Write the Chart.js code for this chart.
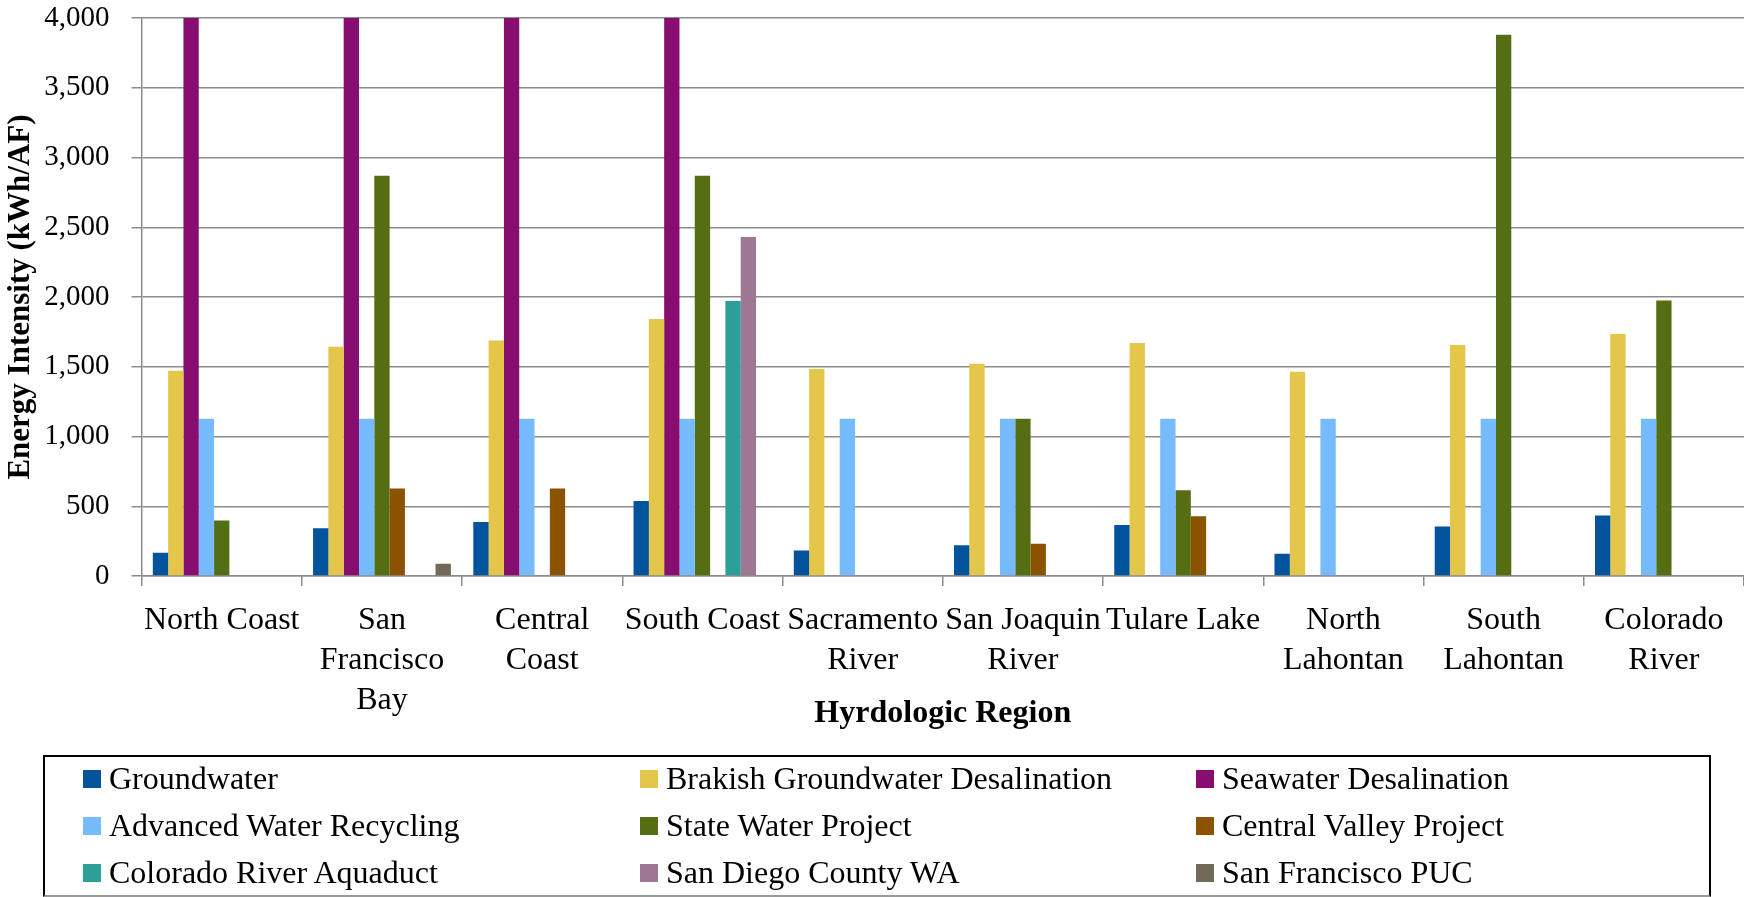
<!DOCTYPE html>
<html>
<head>
<meta charset="utf-8">
<script src="https://cdn.jsdelivr.net/npm/chart.js@4.4.1/dist/chart.umd.min.js"></script>
<style>
  html, body { margin: 0; padding: 0; background: #fff; }
  #wrap { position: relative; width: 1744px; height: 897px; overflow: hidden; }
  #chart { position: absolute; left: 0; top: 0; }
  #legend {
    position: absolute; left: 43px; top: 755px; width: 1668px; height: 142px;
    box-sizing: border-box; border: 2px solid #000; border-bottom-color: #9a9a9a;
    font-family: 'Liberation Serif', serif; font-size: 32px; color: #000;
  }
  .item { position: absolute; white-space: nowrap; line-height: 32px; height: 32px; padding-left: 26px; }
  .sw { position: absolute; left: 0; top: 8px; width: 18px; height: 18px; }
</style>
</head>
<body>
<div id="wrap">
  <canvas id="chart" width="1744" height="897"></canvas>
  <div id="legend"></div>
</div>
<script>
// Hydrologic regions (x categories, pre-wrapped into lines)
const regions = [
  ['North Coast'],
  ['San', 'Francisco', 'Bay'],
  ['Central', 'Coast'],
  ['South Coast'],
  ['Sacramento', 'River'],
  ['San Joaquin', 'River'],
  ['Tulare Lake'],
  ['North', 'Lahontan'],
  ['South', 'Lahontan'],
  ['Colorado', 'River']
];

// Energy intensity per water source, kWh per acre-foot
const groundwater          = [167, 342, 387, 538, 182, 220, 366, 160, 354, 433];
const brackishDesalination = [1472, 1644, 1689, 1842, 1484, 1522, 1670, 1465, 1656, 1735];
const seawaterDesalination = [4000, 4000, 4000, 4000, null, null, null, null, null, null];
const advancedRecycling    = [1128, 1128, 1128, 1128, 1128, 1128, 1128, 1128, 1128, 1128];
const stateWaterProject    = [397, 2870, null, 2870, null, 1128, 614, null, 3880, 1975];
const centralValleyProject = [null, 628, 628, null, null, 232, 428, null, null, null];
const coloradoRiverAqueduct= [null, null, null, 1971, null, null, null, null, null, null];
const sanDiegoCountyWA     = [null, null, null, 2430, null, null, null, null, null, null];
const sanFranciscoPUC      = [null, 88, null, null, null, null, null, null, null, null];

// Y axis range and tick step
const yMin = 0;
const yMax = 4000;
const yStep = 500;

const seriesNames = [
  'Groundwater', 'Brakish Groundwater Desalination', 'Seawater Desalination',
  'Advanced Water Recycling', 'State Water Project', 'Central Valley Project',
  'Colorado River Aquaduct', 'San Diego County WA', 'San Francisco PUC'
];
const seriesValues = [
  groundwater, brackishDesalination, seawaterDesalination,
  advancedRecycling, stateWaterProject, centralValleyProject,
  coloradoRiverAqueduct, sanDiegoCountyWA, sanFranciscoPUC
];
const seriesColors = [
  '#01539b', '#e3c64a', '#870e6f',
  '#75bbfd', '#566e13', '#8b5300',
  '#2b9f98', '#9e7792', '#726a58'
];

const FONT = "'Liberation Serif', serif";
const GRID = '#8c8c8c';

Chart.defaults.color = '#000';

const chart = new Chart(document.getElementById('chart'), {
  type: 'bar',
  data: {
    labels: regions,
    datasets: seriesNames.map((name, i) => ({
      label: name,
      data: seriesValues[i],
      backgroundColor: seriesColors[i],
      borderWidth: 0,
      categoryPercentage: 0.86,
      barPercentage: 1.0
    }))
  },
  options: {
    responsive: false,
    animation: false,
    devicePixelRatio: 1,
    layout: { padding: { top: 0, right: 0, bottom: 164, left: 0 } },
    plugins: {
      legend: { display: false },
      tooltip: { enabled: false }
    },
    scales: {
      x: {
        grid: { display: true, drawOnChartArea: false, drawTicks: true, tickLength: 10, color: GRID, lineWidth: 1.5, offset: true },
        border: { display: true, color: GRID, width: 1.5 },
        ticks: {
          autoSkip: false, maxRotation: 0, minRotation: 0, padding: 15,
          font: { family: FONT, size: 32, lineHeight: 40 / 32 }
        },
        title: {
          display: true, text: 'Hyrdologic Region',
          font: { family: FONT, size: 32, weight: 'bold', lineHeight: 1.2 },
          padding: { top: 0, bottom: 0 }
        },
        afterFit: s => { s.height = 157; }
      },
      y: {
        min: yMin, max: yMax,
        grid: { color: GRID, lineWidth: 1.5, tickLength: 10 },
        border: { display: true, color: GRID, width: 1.5 },
        ticks: {
          stepSize: yStep, padding: 22,
          font: { family: FONT, size: 29, lineHeight: 1.2 },
          callback: v => v.toLocaleString('en-US')
        },
        title: {
          display: true, text: 'Energy Intensity (kWh/AF)',
          font: { family: FONT, size: 31, weight: 'bold', lineHeight: 1.2 },
          padding: { top: 2, bottom: 0 }
        },
        afterFit: s => {
          s.width = 141.6;
          // plot area starts 18px below the top edge
          s.paddingTop = 18;
          s.paddingBottom = 0;
        }
      }
    }
  }
});

// Legend: three columns, three rows, built from the chart's datasets
const legendEl = document.getElementById('legend');
const colLeft = [38, 595, 1151];
const rowTop = [5, 52, 99];
chart.data.datasets.forEach((ds, i) => {
  const item = document.createElement('div');
  item.className = 'item';
  item.style.left = colLeft[i % 3] + 'px';
  item.style.top = rowTop[Math.floor(i / 3)] + 'px';
  const sw = document.createElement('span');
  sw.className = 'sw';
  sw.style.background = ds.backgroundColor;
  item.appendChild(sw);
  item.appendChild(document.createTextNode(ds.label));
  legendEl.appendChild(item);
});
</script>
</body>
</html>
